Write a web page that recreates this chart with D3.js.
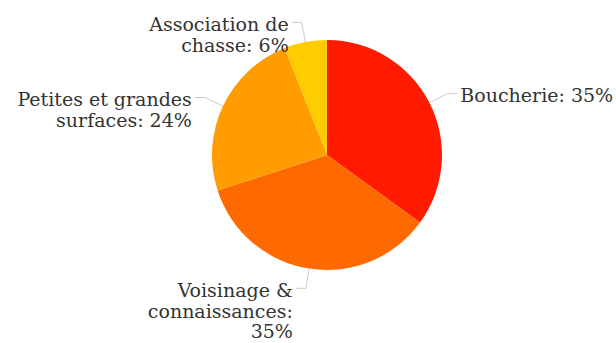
<!DOCTYPE html>
<html>
<head>
<meta charset="utf-8">
<script src="https://cdn.jsdelivr.net/npm/d3@7"></script>
<style>
  html, body { margin: 0; padding: 0; background: #fff; }
  svg { display: block; }
</style>
</head>
<body>
<svg id="chart" width="616" height="343"></svg>
<script>
// Sources of meat: share of respondents per channel
const categories = ["Boucherie", "Voisinage & connaissances", "Petites et grandes surfaces", "Association de chasse"];
const shares = [35, 35, 24, 6];
const sliceColors = ["#ff1a00", "#ff6a00", "#ff9c00", "#ffcc00"];

const cx = 327, cy = 155, R = 115;
const fontSize = 19, lineStep = 20.7, wrapWidth = 185;

const svg = d3.select("#chart");
const g = svg.append("g").attr("transform", `translate(${cx},${cy})`);

const pie = d3.pie().sort(null).value(d => d.value);
const arcs = pie(categories.map((c, i) => ({ name: c, value: shares[i], color: sliceColors[i] })));
const arc = d3.arc().innerRadius(0).outerRadius(R);

g.selectAll("path.slice")
  .data(arcs)
  .join("path")
  .attr("class", "slice")
  .attr("d", arc)
  .attr("fill", d => d.data.color);

// Leader lines: from rim, out to an elbow, then a short horizontal run
const elbowR = R + 20, run = 10;
const mid = d => (d.startAngle + d.endAngle) / 2;
const pt = (a, r) => [Math.sin(a) * r, -Math.cos(a) * r];
const side = d => Math.sin(mid(d)) >= 0 ? 1 : -1;

const labels = g.selectAll("g.label").data(arcs).join("g").attr("class", "label");

labels.append("polyline")
  .attr("fill", "none")
  .attr("stroke", "#cccccc")
  .attr("stroke-width", 1)
  .attr("points", d => {
    const p0 = pt(mid(d), R), p1 = pt(mid(d), elbowR);
    const p2 = [p1[0] + side(d) * run, p1[1]];
    return [p0, p1, p2].map(p => p.join(",")).join(" ");
  });

const text = labels.append("text")
  .attr("font-family", "'DejaVu Serif', serif")
  .attr("font-size", fontSize)
  .attr("fill", "#333333")
  .attr("text-anchor", d => side(d) > 0 ? "start" : "end")
  .attr("transform", d => {
    const p1 = pt(mid(d), elbowR);
    return `translate(${p1[0] + side(d) * (run + 3)},${p1[1] + 8.5})`;
  });

// Word-wrap each label to a maximum width
text.each(function(d) {
  const el = d3.select(this);
  const words = `${d.data.name}: ${d.data.value}%`.split(" ");
  let line = [], lineNo = 0;
  let tspan = el.append("tspan").attr("x", 0).attr("y", 0);
  words.forEach(w => {
    line.push(w);
    tspan.text(line.join(" "));
    if (tspan.node().getComputedTextLength() > wrapWidth && line.length > 1) {
      line.pop();
      tspan.text(line.join(" "));
      line = [w];
      lineNo++;
      tspan = el.append("tspan").attr("x", 0).attr("y", lineNo * lineStep).text(w);
    }
  });
});
</script>
</body>
</html>
